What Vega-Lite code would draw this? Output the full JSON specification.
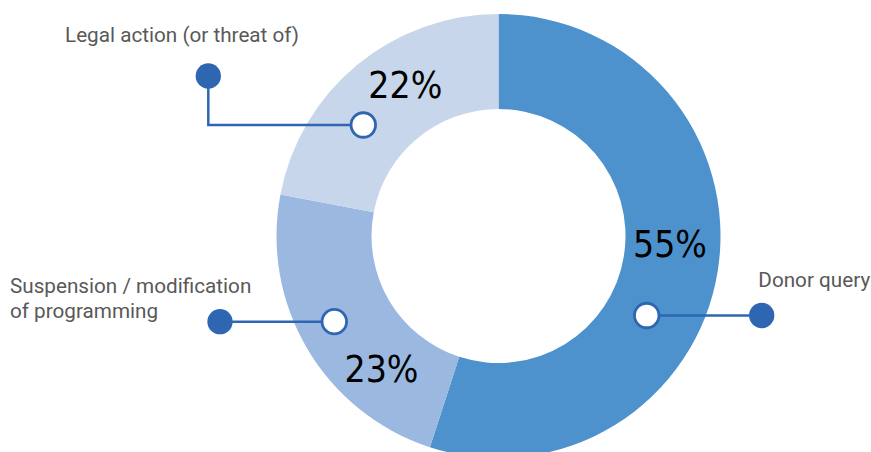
{
  "$schema": "https://vega.github.io/schema/vega-lite/v6.json",
  "width": 871,
  "height": 452,
  "padding": 0,
  "autosize": {"type": "none"},
  "background": "#ffffff",
  "config": {"view": {"stroke": null}},
  "datasets": {
    "slices": [
      {"category": "Donor query", "share": 0.55, "order": 1},
      {"category": "Suspension / modification of programming", "share": 0.23, "order": 2},
      {"category": "Legal action (or threat of)", "share": 0.22, "order": 3}
    ],
    "leaders": [
      {"category": "Legal action (or threat of)", "step": 1, "x": -0.609, "y": 0.5},
      {"category": "Legal action (or threat of)", "step": 2, "x": -1.3072, "y": 0.5},
      {"category": "Legal action (or threat of)", "step": 3, "x": -1.3072, "y": 0.7207},
      {"category": "Suspension / modification of programming", "step": 1, "x": -0.7396, "y": -0.386},
      {"category": "Suspension / modification of programming", "step": 2, "x": -1.2545, "y": -0.386},
      {"category": "Donor query", "step": 1, "x": 0.6676, "y": -0.3581},
      {"category": "Donor query", "step": 2, "x": 1.1856, "y": -0.3581}
    ],
    "anchors": [
      {"category": "Legal action (or threat of)", "end": "inner", "x": -0.609, "y": 0.5},
      {"category": "Legal action (or threat of)", "end": "outer", "x": -1.3072, "y": 0.7207},
      {"category": "Suspension / modification of programming", "end": "inner", "x": -0.7396, "y": -0.386},
      {"category": "Suspension / modification of programming", "end": "outer", "x": -1.2545, "y": -0.386},
      {"category": "Donor query", "end": "inner", "x": 0.6676, "y": -0.3581},
      {"category": "Donor query", "end": "outer", "x": 1.1856, "y": -0.3581}
    ],
    "names": [
      {"category": "Legal action (or threat of)", "label": "Legal action (or threat of)", "x": -1.9527, "y": 0.8739},
      {"category": "Suspension / modification of programming", "label": "Suspension / modification\nof programming", "x": -2.2005, "y": -0.2581},
      {"category": "Donor query", "label": "Donor query", "x": 1.1703, "y": -0.2311}
    ],
    "shares": [
      {"category": "Legal action (or threat of)", "x": -0.4198, "y": 0.623},
      {"category": "Donor query", "x": 0.7725, "y": -0.0932},
      {"category": "Suspension / modification of programming", "x": -0.527, "y": -0.6563}
    ]
  },
  "layer": [
    {
      "data": {"name": "slices"},
      "mark": {"type": "arc", "outerRadius": 222, "innerRadius": 127},
      "encoding": {
        "x": {"datum": 0, "type": "quantitative", "scale": {"domain": [-2.2455, 1.6779], "nice": false, "zero": false}, "axis": null},
        "y": {"datum": 0, "type": "quantitative", "scale": {"domain": [-0.973, 1.0631], "nice": false, "zero": false}, "axis": null},
        "theta": {"field": "share", "type": "quantitative", "stack": true},
        "order": {"field": "order", "type": "quantitative"},
        "color": {
          "field": "category",
          "type": "nominal",
          "scale": {
            "domain": ["Donor query", "Suspension / modification of programming", "Legal action (or threat of)"],
            "range": ["#4E92CD", "#9BB8E0", "#C8D6EC"]
          },
          "legend": null
        }
      }
    },
    {
      "data": {"name": "leaders"},
      "mark": {"type": "line", "color": "#2E66B2", "strokeWidth": 2.5, "interpolate": "linear"},
      "encoding": {
        "x": {"field": "x", "type": "quantitative", "scale": {"domain": [-2.2455, 1.6779], "nice": false, "zero": false}, "axis": null},
        "y": {"field": "y", "type": "quantitative", "scale": {"domain": [-0.973, 1.0631], "nice": false, "zero": false}, "axis": null},
        "detail": {"field": "category", "type": "nominal"},
        "order": {"field": "step", "type": "quantitative"}
      }
    },
    {
      "data": {"name": "anchors"},
      "transform": [{"filter": "datum.end === 'inner'"}],
      "mark": {"type": "point", "shape": "circle", "filled": true, "fill": "#ffffff", "stroke": "#2E66B2", "strokeWidth": 2.8, "size": 600, "opacity": 1},
      "encoding": {
        "x": {"field": "x", "type": "quantitative", "scale": {"domain": [-2.2455, 1.6779], "nice": false, "zero": false}, "axis": null},
        "y": {"field": "y", "type": "quantitative", "scale": {"domain": [-0.973, 1.0631], "nice": false, "zero": false}, "axis": null}
      }
    },
    {
      "data": {"name": "anchors"},
      "transform": [{"filter": "datum.end === 'outer'"}],
      "mark": {"type": "point", "shape": "circle", "filled": true, "fill": "#2E66B2", "strokeWidth": 0, "size": 640, "opacity": 1},
      "encoding": {
        "x": {"field": "x", "type": "quantitative", "scale": {"domain": [-2.2455, 1.6779], "nice": false, "zero": false}, "axis": null},
        "y": {"field": "y", "type": "quantitative", "scale": {"domain": [-0.973, 1.0631], "nice": false, "zero": false}, "axis": null}
      }
    },
    {
      "data": {"name": "names"},
      "mark": {"type": "text", "align": "left", "baseline": "alphabetic", "font": "Roboto", "fontSize": 20.7, "color": "#595959", "lineBreak": "\n", "lineHeight": 25},
      "encoding": {
        "x": {"field": "x", "type": "quantitative", "scale": {"domain": [-2.2455, 1.6779], "nice": false, "zero": false}, "axis": null},
        "y": {"field": "y", "type": "quantitative", "scale": {"domain": [-0.973, 1.0631], "nice": false, "zero": false}, "axis": null},
        "text": {"field": "label", "type": "nominal"}
      }
    },
    {
      "data": {"name": "shares"},
      "transform": [
        {"lookup": "category", "from": {"data": {"name": "slices"}, "key": "category", "fields": ["share"]}}
      ],
      "mark": {"type": "text", "align": "center", "baseline": "alphabetic", "font": "DejaVu Sans Condensed, Roboto", "fontSize": 37, "color": "#000000"},
      "encoding": {
        "x": {"field": "x", "type": "quantitative", "scale": {"domain": [-2.2455, 1.6779], "nice": false, "zero": false}, "axis": null},
        "y": {"field": "y", "type": "quantitative", "scale": {"domain": [-0.973, 1.0631], "nice": false, "zero": false}, "axis": null},
        "text": {"field": "share", "type": "quantitative", "format": ".0%"}
      }
    }
  ]
}
